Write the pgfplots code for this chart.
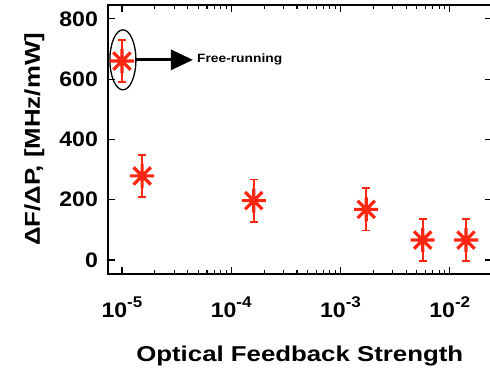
\documentclass[border=0pt]{standalone}
\usepackage{pgfplots}
\pgfplotsset{compat=1.18}
\usepackage{fontspec}
\setmainfont{Liberation Sans}
\usetikzlibrary{arrows.meta}
\definecolor{ptred}{RGB}{255,38,18}
\newcommand{\ep}[1]{10\raisebox{9.5pt}{\fontsize{15.5}{15.5}\selectfont\bfseries #1}}
\pgfdeclareplotmark{star8}{%
  \pgfpathmoveto{\pgfqpoint{-\pgfplotmarksize}{0pt}}%
  \pgfpathlineto{\pgfqpoint{\pgfplotmarksize}{0pt}}%
  \pgfpathmoveto{\pgfqpoint{0pt}{-\pgfplotmarksize}}%
  \pgfpathlineto{\pgfqpoint{0pt}{\pgfplotmarksize}}%
  \pgfpathmoveto{\pgfqpoint{-0.72\pgfplotmarksize}{-0.72\pgfplotmarksize}}%
  \pgfpathlineto{\pgfqpoint{0.72\pgfplotmarksize}{0.72\pgfplotmarksize}}%
  \pgfpathmoveto{\pgfqpoint{-0.72\pgfplotmarksize}{0.72\pgfplotmarksize}}%
  \pgfpathlineto{\pgfqpoint{0.72\pgfplotmarksize}{-0.72\pgfplotmarksize}}%
  \pgfusepathqstroke}
\begin{document}
\begin{tikzpicture}
\begin{axis}[
  name=ax,
  scale only axis,
  width=383.5pt, height=269pt,
  xmode=log,
  xmin=7.45e-6, xmax=2.41e-2,
  ymin=-46.5, ymax=846,
  xtick={1e-5,1e-4,1e-3,1e-2},
  xticklabels={\ep{-5},\ep{-4},\ep{-3},\ep{-2}},
  ytick={0,200,400,600,800},
  yticklabels={0,200,400,600,800},
  tick align=inside,
  major tick length=7pt,
  minor tick length=4pt,
  every tick/.style={line width=1.1pt, black},
  axis line style={line width=1.3pt},
  ticklabel style={font=\fontsize{21}{21}\selectfont\bfseries, xscale=1.1},
  yticklabel style={anchor=east, inner sep=0pt, xshift=-9pt},
  xticklabel style={anchor=base, inner sep=0pt, yshift=-43pt},
  xlabel={Optical Feedback Strength},
  ylabel={ΔF/ΔP, [MHz/mW]},
  label style={font=\fontsize{21.5}{21.5}\selectfont\bfseries},
  xlabel style={at={(axis description cs:0.5,-0.327)}, anchor=base, xscale=1.2},
  ylabel style={at={(axis description cs:-0.1773,0.5)}, anchor=base, rotate=0, xscale=1.2},
  clip=false,
]
\addplot[only marks, color=ptred, mark=star8, mark size=12pt,
  mark options={line width=3.2pt, line cap=butt},
  error bars/.cd, y dir=both, y explicit,
  error bar style={line width=1.8pt, ptred},
  error mark options={rotate=90, mark size=4pt, line width=1.8pt, ptred}]
coordinates {
  (1.0e-5,660)   +- (0,70)
  (1.53e-5,279)  +- (0,70)
  (1.61e-4,197)  +- (0,70)
  (1.72e-3,168)  +- (0,70)
  (5.65e-3,66)   +- (0,70)
  (1.41e-2,66)   +- (0,70)
};
\draw[line width=1.3pt] (axis cs:1.02e-5,664) ellipse [x radius=13pt, y radius=30pt];
\draw[line width=3pt, -{Triangle[length=22pt,width=20pt]}] ([xshift=13pt]axis cs:1.02e-5,664) -- ([xshift=70pt]axis cs:1.02e-5,664);
\node[anchor=west, inner sep=0pt, font=\fontsize{12}{12}\selectfont\bfseries, xscale=1.15] at ([xshift=74pt]axis cs:1.02e-5,664) {Free-running};
\end{axis}
\pgfresetboundingbox
\path[use as bounding box] ([xshift=-108pt,yshift=-99pt]ax.south west) rectangle ([xshift=-1.5pt,yshift=5pt]ax.north east);
\end{tikzpicture}
\end{document}
